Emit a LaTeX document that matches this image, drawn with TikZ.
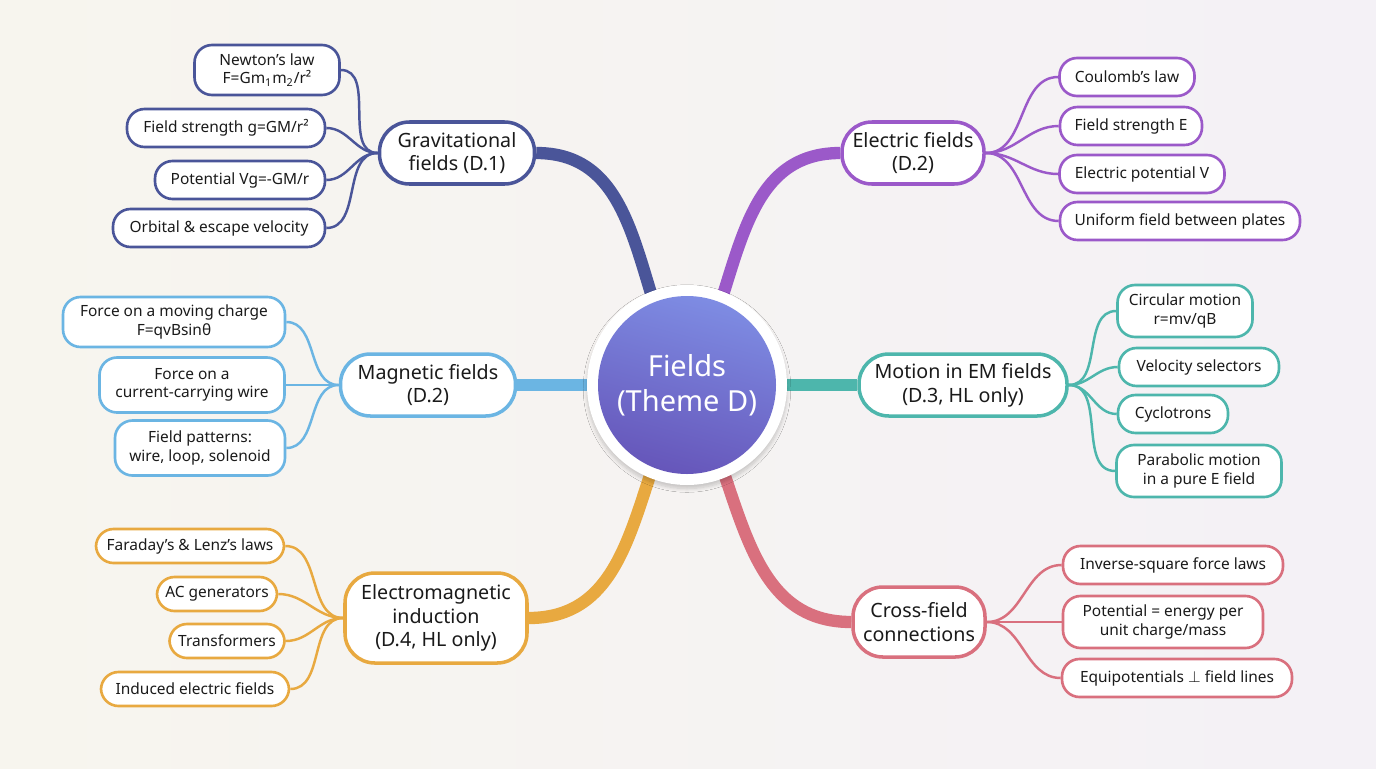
\documentclass[tikz,border=0pt]{standalone}
\usepackage{fontspec}
\setmainfont{Noto Sans}
\usetikzlibrary{shadows.blur}
\definecolor{cg}{HTML}{4A5599}
\definecolor{ce}{HTML}{9B59C9}
\definecolor{cm}{HTML}{6BB5E3}
\definecolor{ct}{HTML}{4DB6AC}
\definecolor{co}{HTML}{E8A940}
\definecolor{cr}{HTML}{D9707E}
\definecolor{txt}{HTML}{1A1A1A}
\definecolor{c1}{HTML}{7E8CE3}
\definecolor{c2}{HTML}{6656BA}
\definecolor{bgl}{HTML}{F7F5EE}
\definecolor{bgr}{HTML}{F4F1F6}
\tikzset{
 main/.style={draw=#1,line width=2pt,fill=white,rounded corners=17pt,align=center,font=\fontsize{11.2}{13.5}\selectfont,text=txt,inner sep=0pt},
 leaf/.style={draw=#1,line width=1.5pt,fill=white,rounded corners=10pt,align=center,font=\fontsize{8.8}{10.6}\selectfont,text=txt,inner sep=0pt},
 lk/.style={draw=#1,line width=1.4pt},
 trunk/.style={draw=#1,line width=7pt},
}
\begin{document}
\begin{tikzpicture}[x=0.02cm,y=-0.02cm]
\shade[left color=bgl,right color=bgr] (0,0) rectangle (1376,768);
\path[use as bounding box] (0,0) rectangle (1376,768);
\coordinate (cc) at (687,385);
% main nodes
\node[main=cg,minimum width=155*0.02cm,minimum height=62*0.02cm] (g) at (457,153) {Gravitational\\fields (D.1)};
\node[main=ce,minimum width=142*0.02cm,minimum height=62*0.02cm] (e) at (913,153) {Electric fields\\(D.2)};
\node[main=cm,minimum width=175*0.02cm,minimum height=62*0.02cm] (m) at (428,385) {Magnetic fields\\(D.2)};
\node[main=ct,minimum width=208*0.02cm,minimum height=62*0.02cm] (t) at (963,385) {Motion in EM fields\\(D.3, HL only)};
\node[main=co,minimum width=182*0.02cm,minimum height=90*0.02cm] (o) at (436,618) {Electromagnetic\\induction\\(D.4, HL only)};
\node[main=cr,minimum width=132*0.02cm,minimum height=70*0.02cm] (r) at (919,622) {Cross-field\\connections};
% trunks
\draw[trunk=cg] (g.east) to[out=0,in=120] (cc);
\draw[trunk=ce] (e.west) to[out=180,in=60] (cc);
\draw[trunk=cm] (m.east) to[out=0,in=180] (cc);
\draw[trunk=ct] (t.west) to[out=180,in=0] (cc);
\draw[trunk=co] (o.east) to[out=0,in=240] (cc);
\draw[trunk=cr] (r.west) to[out=180,in=300] (cc);
% center
\node[circle,fill=white,minimum size=200*0.02cm,inner sep=0pt,blur shadow={shadow blur steps=8,shadow xshift=0pt,shadow yshift=-2pt,shadow opacity=20}] (c) at (cc) {};
\shade[top color=c1,bottom color=c2,shading angle=-15] (cc) circle (89);
\node[text=white,align=center,font=\fontsize{16.5}{20}\selectfont] (ct) at (cc) {Fields\\(Theme D)};
% leaves grav
\node[leaf=cg,minimum width=145*0.02cm,minimum height=50*0.02cm] (g1) at (267,70) {Newton's law\\F=Gm\textsubscript{1}m\textsubscript{2}/r²};
\node[leaf=cg,minimum width=198*0.02cm,minimum height=38*0.02cm] (g2) at (226,128) {Field strength g=GM/r²};
\node[leaf=cg,minimum width=170*0.02cm,minimum height=38*0.02cm] (g3) at (240,180) {Potential Vg=-GM/r};
\node[leaf=cg,minimum width=212*0.02cm,minimum height=38*0.02cm] (g4) at (219,228) {Orbital \& escape velocity};
\foreach \n in {g1,g2,g3,g4} \draw[lk=cg] (\n.east) to[out=0,in=180] (g.west);
% electric
\node[leaf=ce,minimum width=135*0.02cm,minimum height=38*0.02cm] (e1) at (1127,77) {Coulomb's law};
\node[leaf=ce,minimum width=142*0.02cm,minimum height=38*0.02cm] (e2) at (1131,126) {Field strength E};
\node[leaf=ce,minimum width=165*0.02cm,minimum height=38*0.02cm] (e3) at (1142,174) {Electric potential V};
\node[leaf=ce,minimum width=240*0.02cm,minimum height=38*0.02cm] (e4) at (1180,221) {Uniform field between plates};
\foreach \n in {e1,e2,e3,e4} \draw[lk=ce] (\n.west) to[out=180,in=0] (e.east);
% magnetic
\node[leaf=cm,minimum width=222*0.02cm,minimum height=50*0.02cm] (m1) at (174,322) {Force on a moving charge\\F=qvBsinθ};
\node[leaf=cm,minimum width=185*0.02cm,minimum height=55*0.02cm] (m2) at (192,385) {Force on a\\current-carrying wire};
\node[leaf=cm,minimum width=170*0.02cm,minimum height=55*0.02cm] (m3) at (200,448) {Field patterns:\\wire, loop, solenoid};
\foreach \n in {m1,m2,m3} \draw[lk=cm] (\n.east) to[out=0,in=180] (m.west);
% motion
\node[leaf=ct,minimum width=135*0.02cm,minimum height=52*0.02cm] (t1) at (1185,311) {Circular motion\\r=mv/qB};
\node[leaf=ct,minimum width=160*0.02cm,minimum height=38*0.02cm] (t2) at (1199,367) {Velocity selectors};
\node[leaf=ct,minimum width=110*0.02cm,minimum height=38*0.02cm] (t3) at (1173,414) {Cyclotrons};
\node[leaf=ct,minimum width=165*0.02cm,minimum height=52*0.02cm] (t4) at (1199,471) {Parabolic motion\\in a pure E field};
\foreach \n in {t1,t2,t3,t4} \draw[lk=ct] (\n.west) to[out=180,in=0] (t.east);
% em induction
\node[leaf=co,minimum width=188*0.02cm,minimum height=34*0.02cm] (o1) at (190,546) {Faraday's \& Lenz's laws};
\node[leaf=co,minimum width=120*0.02cm,minimum height=34*0.02cm] (o2) at (217,594) {AC generators};
\node[leaf=co,minimum width=115*0.02cm,minimum height=34*0.02cm] (o3) at (227,641) {Transformers};
\node[leaf=co,minimum width=188*0.02cm,minimum height=34*0.02cm] (o4) at (195,689) {Induced electric fields};
\foreach \n in {o1,o2,o3,o4} \draw[lk=co] (\n.east) to[out=0,in=180] (o.west);
% cross
\node[leaf=cr,minimum width=220*0.02cm,minimum height=38*0.02cm] (r1) at (1173,565) {Inverse-square force laws};
\node[leaf=cr,minimum width=200*0.02cm,minimum height=52*0.02cm] (r2) at (1163,622) {Potential = energy per\\unit charge/mass};
\node[leaf=cr,minimum width=230*0.02cm,minimum height=38*0.02cm] (r3) at (1177,678) {Equipotentials $\perp$ field lines};
\foreach \n in {r1,r2,r3} \draw[lk=cr] (\n.west) to[out=180,in=0] (r.east);
\end{tikzpicture}
\end{document}
